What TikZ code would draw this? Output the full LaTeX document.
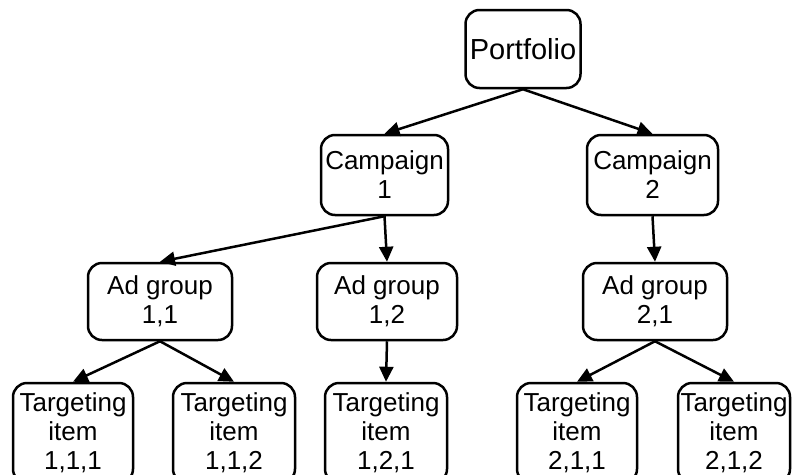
\documentclass[tikz,border=0pt]{standalone}
\usepackage{fontspec}
\setmainfont{Liberation Sans}
\usetikzlibrary{arrows.meta}

\begin{document}
\begin{tikzpicture}[
  x=1pt,y=-1pt,
  font=\fontsize{26}{29}\selectfont,
  box/.style={draw,line width=2.5pt,rounded corners=14pt,align=center,inner sep=0pt,minimum height=78pt},
  item/.style={box,minimum height=100pt},
  arrow/.style={-{Triangle[length=15pt,width=14pt]},line width=2.5pt}
]
\useasboundingbox (0,0) rectangle (794,474);
\node[box,minimum width=115pt,font=\fontsize{29}{33}\selectfont] (port) at (523,49) {Portfolio};
\node[box,minimum width=127pt,minimum height=80pt] (camp1) at (384.5,175) {Campaign\\1};
\node[box,minimum width=131pt,minimum height=80pt] (camp2) at (652.5,175) {Campaign\\2};
\node[box,minimum width=144pt,minimum height=77pt] (ad11) at (160,301.5) {Ad group\\1,1};
\node[box,minimum width=140pt,minimum height=77pt] (ad12) at (387,301.5) {Ad group\\1,2};
\node[box,minimum width=144pt,minimum height=77pt] (ad21) at (655,301.5) {Ad group\\2,1};
\node[item,minimum width=120pt] (t111) at (73,433) {Targeting\\item\\1,1,1};
\node[item,minimum width=122pt] (t112) at (234,433) {Targeting\\item\\1,1,2};
\node[item,minimum width=122pt] (t121) at (386,433) {Targeting\\item\\1,2,1};
\node[item,minimum width=120pt] (t211) at (577,433) {Targeting\\item\\2,1,1};
\node[item,minimum width=112pt] (t212) at (734,433) {Targeting\\item\\2,1,2};
\draw[arrow] (port.south) -- (camp1.north);
\draw[arrow] (port.south) -- (camp2.north);
\draw[arrow] (camp1.south) -- (ad11.north);
\draw[arrow] (camp1.south) -- (ad12.north);
\draw[arrow] (camp2.south) -- (ad21.north);
\draw[arrow] (ad11.south) -- (t111.north);
\draw[arrow] (ad11.south) -- (t112.north);
\draw[arrow] (ad12.south) -- (t121.north);
\draw[arrow] (ad21.south) -- (t211.north);
\draw[arrow] (ad21.south) -- (t212.north);
\end{tikzpicture}
\end{document}
